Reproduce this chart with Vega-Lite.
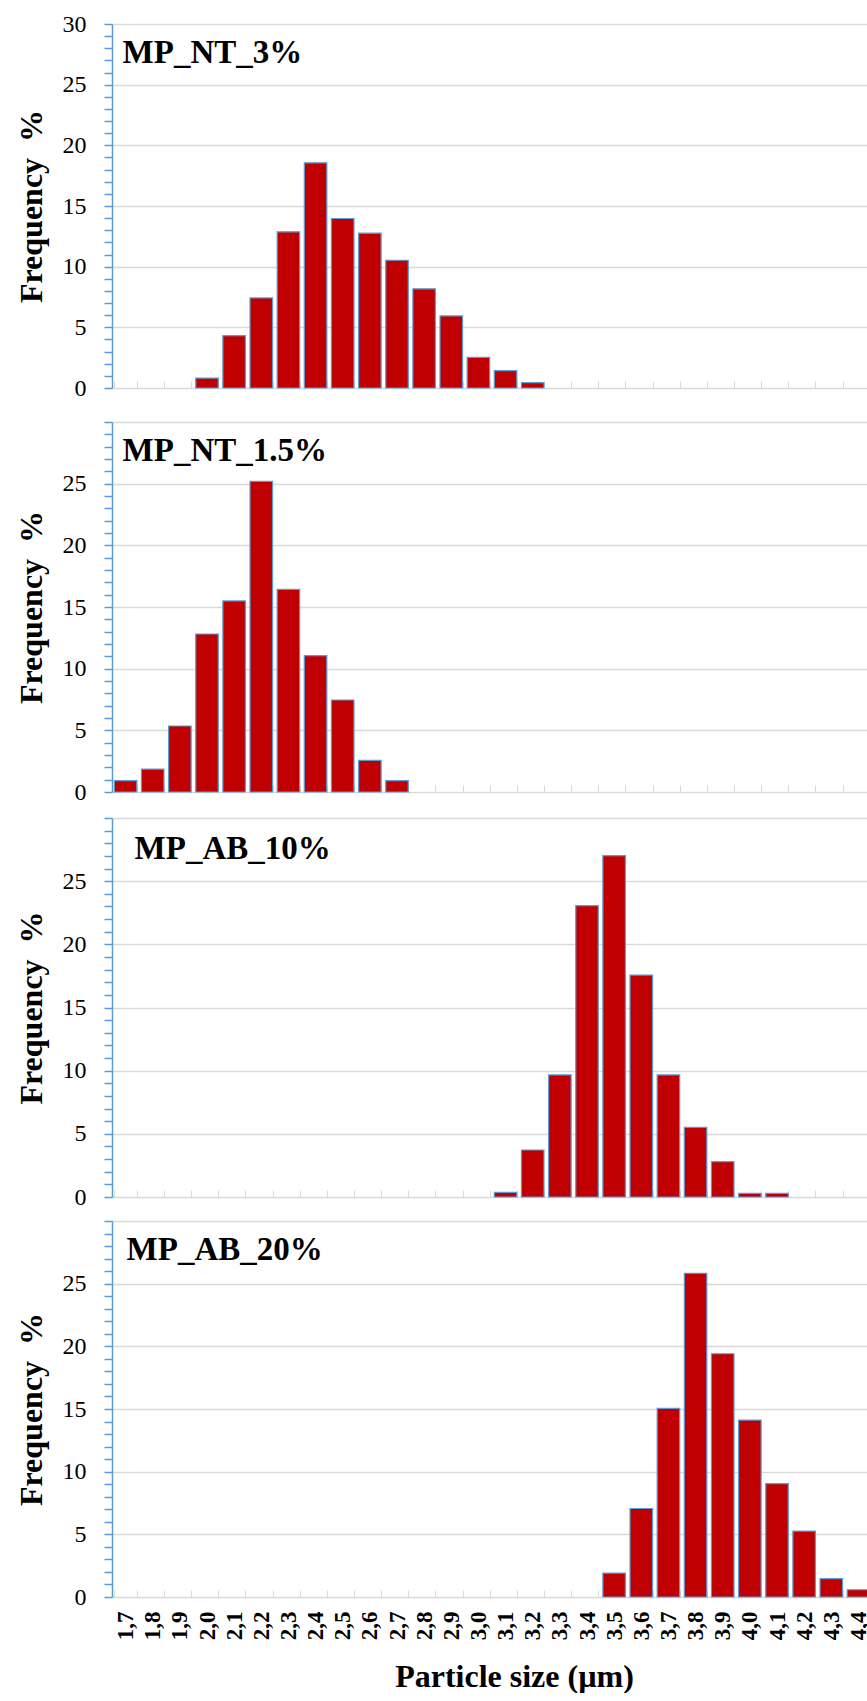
{
  "$schema": "https://vega.github.io/schema/vega-lite/v6.json",
  "background": "white",
  "padding": {"top": 12, "left": 15, "right": 0, "bottom": 0},
  "config": {
    "font": "Liberation Serif",
    "view": {"stroke": null},
    "axis": {"labelFont": "Liberation Serif", "titleFont": "Liberation Serif", "labelColor": "#000000", "titleColor": "#000000"}
  },
  "datasets": {
    "nt3": [
      {"size": "2,0", "freq": 0.82}, {"size": "2,1", "freq": 4.32}, {"size": "2,2", "freq": 7.42},
      {"size": "2,3", "freq": 12.87}, {"size": "2,4", "freq": 18.56}, {"size": "2,5", "freq": 13.97},
      {"size": "2,6", "freq": 12.76}, {"size": "2,7", "freq": 10.53}, {"size": "2,8", "freq": 8.17},
      {"size": "2,9", "freq": 5.94}, {"size": "3,0", "freq": 2.53}, {"size": "3,1", "freq": 1.43},
      {"size": "3,2", "freq": 0.44}
    ],
    "nt15": [
      {"size": "1,7", "freq": 0.92}, {"size": "1,8", "freq": 1.86}, {"size": "1,9", "freq": 5.35},
      {"size": "2,0", "freq": 12.81}, {"size": "2,1", "freq": 15.49}, {"size": "2,2", "freq": 25.19},
      {"size": "2,3", "freq": 16.43}, {"size": "2,4", "freq": 11.05}, {"size": "2,5", "freq": 7.46},
      {"size": "2,6", "freq": 2.57}, {"size": "2,7", "freq": 0.92}
    ],
    "ab10": [
      {"size": "3,1", "freq": 0.37}, {"size": "3,2", "freq": 3.72}, {"size": "3,3", "freq": 9.66},
      {"size": "3,4", "freq": 23.06}, {"size": "3,5", "freq": 27.02}, {"size": "3,6", "freq": 17.57},
      {"size": "3,7", "freq": 9.66}, {"size": "3,8", "freq": 5.51}, {"size": "3,9", "freq": 2.8},
      {"size": "4,0", "freq": 0.29}, {"size": "4,1", "freq": 0.29}
    ],
    "ab20": [
      {"size": "3,5", "freq": 1.91}, {"size": "3,6", "freq": 7.06}, {"size": "3,7", "freq": 15.05},
      {"size": "3,8", "freq": 25.83}, {"size": "3,9", "freq": 19.41}, {"size": "4,0", "freq": 14.12},
      {"size": "4,1", "freq": 9.05}, {"size": "4,2", "freq": 5.26}, {"size": "4,3", "freq": 1.46},
      {"size": "4,4", "freq": 0.58}
    ]
  },
  "spacing": 10,
  "vconcat": [
    {
      "width": 760, "height": 364,
      "layer": [
        {
          "data": {"name": "nt3"},
          "mark": {"type": "bar", "color": "#C00000", "stroke": "#5B9BD5", "strokeWidth": 1.2},
          "encoding": {
            "x": {"field": "size", "type": "nominal",
              "scale": {"domain": ["1,7","1,8","1,9","2,0","2,1","2,2","2,3","2,4","2,5","2,6","2,7","2,8","2,9","3,0","3,1","3,2","3,3","3,4","3,5","3,6","3,7","3,8","3,9","4,0","4,1","4,2","4,3","4,4"], "paddingInner": 0.17, "paddingOuter": 0.085},
              "axis": {"title": null, "labels": false, "tickBand": "extent", "tickSize": -7, "tickColor": "#D9D9D9", "tickWidth": 1, "domainColor": "#D9D9D9", "domainWidth": 1.5, "grid": false}},
            "y": {"field": "freq", "type": "quantitative",
              "scale": {"domain": [0, 30], "nice": false},
              "axis": {"title": "Frequency\u00a0\u00a0%", "titleFontSize": 32, "titleFontWeight": "bold", "titlePadding": 14,
                "values": [0,1,2,3,4,5,6,7,8,9,10,11,12,13,14,15,16,17,18,19,20,21,22,23,24,25,26,27,28,29,30],
                "labelExpr": "datum.value % 5 === 0 ? datum.label : ''", "labelOverlap": false, "labelFontSize": 24, "labelPadding": 18,
                "tickSize": 8, "tickColor": "#5B9BD5", "tickWidth": 1.5, "domainColor": "#5B9BD5", "domainWidth": 1.5,
                "grid": true, "gridColor": "#D9D9D9", "gridWidth": 1.5,
                "gridOpacity": {"condition": {"test": "datum.value % 5 === 0 && datum.value > 0", "value": 1}, "value": 0}}}
          }
        },
        {
          "data": {"values": [{}]},
          "mark": {"type": "text", "text": "MP_NT_3%", "align": "left", "baseline": "alphabetic", "dx": -3, "dy": 39, "font": "Liberation Serif", "fontSize": 33, "fontWeight": "bold", "color": "#000000"},
          "encoding": {
            "x": {"datum": "1,7", "type": "nominal",
              "axis": {"title": null, "labels": false, "tickBand": "extent", "tickSize": -7, "tickColor": "#D9D9D9", "tickWidth": 1, "domainColor": "#D9D9D9", "domainWidth": 1.5, "grid": false}},
            "y": {"datum": 30, "type": "quantitative",
              "axis": {"title": "Frequency\u00a0\u00a0%", "titleFontSize": 32, "titleFontWeight": "bold", "titlePadding": 14,
                "values": [0,1,2,3,4,5,6,7,8,9,10,11,12,13,14,15,16,17,18,19,20,21,22,23,24,25,26,27,28,29,30],
                "labelExpr": "datum.value % 5 === 0 ? datum.label : ''", "labelOverlap": false, "labelFontSize": 24, "labelPadding": 18,
                "tickSize": 8, "tickColor": "#5B9BD5", "tickWidth": 1.5, "domainColor": "#5B9BD5", "domainWidth": 1.5,
                "grid": true, "gridColor": "#D9D9D9", "gridWidth": 1.5,
                "gridOpacity": {"condition": {"test": "datum.value % 5 === 0 && datum.value > 0", "value": 1}, "value": 0}}}
          }
        }
      ]
    },
    {
      "spacing": 2,
      "vconcat": [
        {
          "width": 760, "height": 370,
          "layer": [
            {
              "data": {"name": "nt15"},
              "mark": {"type": "bar", "color": "#C00000", "stroke": "#5B9BD5", "strokeWidth": 1.2},
              "encoding": {
                "x": {"field": "size", "type": "nominal",
                  "scale": {"domain": ["1,7","1,8","1,9","2,0","2,1","2,2","2,3","2,4","2,5","2,6","2,7","2,8","2,9","3,0","3,1","3,2","3,3","3,4","3,5","3,6","3,7","3,8","3,9","4,0","4,1","4,2","4,3","4,4"], "paddingInner": 0.17, "paddingOuter": 0.085},
                  "axis": {"title": null, "labels": false, "tickBand": "extent", "tickSize": -7, "tickColor": "#D9D9D9", "tickWidth": 1, "domainColor": "#D9D9D9", "domainWidth": 1.5, "grid": false}},
                "y": {"field": "freq", "type": "quantitative",
                  "scale": {"domain": [0, 30], "nice": false},
                  "axis": {"title": "Frequency\u00a0\u00a0%", "titleFontSize": 32, "titleFontWeight": "bold", "titlePadding": 14,
                    "values": [0,1,2,3,4,5,6,7,8,9,10,11,12,13,14,15,16,17,18,19,20,21,22,23,24,25,26,27,28,29,30],
                    "labelExpr": "datum.value % 5 === 0 && datum.value < 30 ? datum.label : ''", "labelOverlap": false, "labelFontSize": 24, "labelPadding": 18,
                    "tickSize": 8, "tickColor": "#5B9BD5", "tickWidth": 1.5, "domainColor": "#5B9BD5", "domainWidth": 1.5,
                    "grid": true, "gridColor": "#D9D9D9", "gridWidth": 1.5,
                    "gridOpacity": {"condition": {"test": "datum.value % 5 === 0 && datum.value > 0", "value": 1}, "value": 0}}}
              }
            },
            {
              "data": {"values": [{}]},
              "mark": {"type": "text", "text": "MP_NT_1.5%", "align": "left", "baseline": "alphabetic", "dx": -3, "dy": 39, "font": "Liberation Serif", "fontSize": 33, "fontWeight": "bold", "color": "#000000"},
              "encoding": {
                "x": {"datum": "1,7", "type": "nominal",
                  "axis": {"title": null, "labels": false, "tickBand": "extent", "tickSize": -7, "tickColor": "#D9D9D9", "tickWidth": 1, "domainColor": "#D9D9D9", "domainWidth": 1.5, "grid": false}},
                "y": {"datum": 30, "type": "quantitative",
                  "axis": {"title": "Frequency\u00a0\u00a0%", "titleFontSize": 32, "titleFontWeight": "bold", "titlePadding": 14,
                    "values": [0,1,2,3,4,5,6,7,8,9,10,11,12,13,14,15,16,17,18,19,20,21,22,23,24,25,26,27,28,29,30],
                    "labelExpr": "datum.value % 5 === 0 && datum.value < 30 ? datum.label : ''", "labelOverlap": false, "labelFontSize": 24, "labelPadding": 18,
                    "tickSize": 8, "tickColor": "#5B9BD5", "tickWidth": 1.5, "domainColor": "#5B9BD5", "domainWidth": 1.5,
                    "grid": true, "gridColor": "#D9D9D9", "gridWidth": 1.5,
                    "gridOpacity": {"condition": {"test": "datum.value % 5 === 0 && datum.value > 0", "value": 1}, "value": 0}}}
              }
            }
          ]
        },
        {
          "spacing": 0,
          "vconcat": [
            {
              "width": 760, "height": 379,
              "layer": [
                {
                  "data": {"name": "ab10"},
                  "mark": {"type": "bar", "color": "#C00000", "stroke": "#5B9BD5", "strokeWidth": 1.2},
                  "encoding": {
                    "x": {"field": "size", "type": "nominal",
                      "scale": {"domain": ["1,7","1,8","1,9","2,0","2,1","2,2","2,3","2,4","2,5","2,6","2,7","2,8","2,9","3,0","3,1","3,2","3,3","3,4","3,5","3,6","3,7","3,8","3,9","4,0","4,1","4,2","4,3","4,4"], "paddingInner": 0.17, "paddingOuter": 0.085},
                      "axis": {"title": null, "labels": false, "tickBand": "extent", "tickSize": -7, "tickColor": "#D9D9D9", "tickWidth": 1, "domainColor": "#D9D9D9", "domainWidth": 1.5, "grid": false}},
                    "y": {"field": "freq", "type": "quantitative",
                      "scale": {"domain": [0, 30], "nice": false},
                      "axis": {"title": "Frequency\u00a0\u00a0%", "titleFontSize": 32, "titleFontWeight": "bold", "titlePadding": 14,
                        "values": [0,1,2,3,4,5,6,7,8,9,10,11,12,13,14,15,16,17,18,19,20,21,22,23,24,25,26,27,28,29,30],
                        "labelExpr": "datum.value % 5 === 0 && datum.value < 30 ? datum.label : ''", "labelOverlap": false, "labelFontSize": 24, "labelPadding": 18,
                        "tickSize": 8, "tickColor": "#5B9BD5", "tickWidth": 1.5, "domainColor": "#5B9BD5", "domainWidth": 1.5,
                        "grid": true, "gridColor": "#D9D9D9", "gridWidth": 1.5,
                        "gridOpacity": {"condition": {"test": "datum.value % 5 === 0 && datum.value > 0", "value": 1}, "value": 0}}}
                  }
                },
                {
                  "data": {"values": [{}]},
                  "mark": {"type": "text", "text": "MP_AB_10%", "align": "left", "baseline": "alphabetic", "dx": 9, "dy": 41, "font": "Liberation Serif", "fontSize": 33, "fontWeight": "bold", "color": "#000000"},
                  "encoding": {
                    "x": {"datum": "1,7", "type": "nominal",
                      "axis": {"title": null, "labels": false, "tickBand": "extent", "tickSize": -7, "tickColor": "#D9D9D9", "tickWidth": 1, "domainColor": "#D9D9D9", "domainWidth": 1.5, "grid": false}},
                    "y": {"datum": 30, "type": "quantitative",
                      "axis": {"title": "Frequency\u00a0\u00a0%", "titleFontSize": 32, "titleFontWeight": "bold", "titlePadding": 14,
                        "values": [0,1,2,3,4,5,6,7,8,9,10,11,12,13,14,15,16,17,18,19,20,21,22,23,24,25,26,27,28,29,30],
                        "labelExpr": "datum.value % 5 === 0 && datum.value < 30 ? datum.label : ''", "labelOverlap": false, "labelFontSize": 24, "labelPadding": 18,
                        "tickSize": 8, "tickColor": "#5B9BD5", "tickWidth": 1.5, "domainColor": "#5B9BD5", "domainWidth": 1.5,
                        "grid": true, "gridColor": "#D9D9D9", "gridWidth": 1.5,
                        "gridOpacity": {"condition": {"test": "datum.value % 5 === 0 && datum.value > 0", "value": 1}, "value": 0}}}
                  }
                }
              ]
            },
            {
              "width": 760, "height": 376,
              "layer": [
                {
                  "data": {"name": "ab20"},
                  "mark": {"type": "bar", "color": "#C00000", "stroke": "#5B9BD5", "strokeWidth": 1.2},
                  "encoding": {
                    "x": {"field": "size", "type": "nominal",
                      "scale": {"domain": ["1,7","1,8","1,9","2,0","2,1","2,2","2,3","2,4","2,5","2,6","2,7","2,8","2,9","3,0","3,1","3,2","3,3","3,4","3,5","3,6","3,7","3,8","3,9","4,0","4,1","4,2","4,3","4,4"], "paddingInner": 0.17, "paddingOuter": 0.085},
                      "axis": {"title": "Particle size (µm)", "titleFontSize": 32, "titleFontWeight": "bold", "titlePadding": 22, "titleX": 402,
                        "labelAngle": -90, "labelFontSize": 23, "labelFontWeight": "bold", "labelPadding": 21,
                        "tickBand": "extent", "tickSize": -7, "tickColor": "#D9D9D9", "tickWidth": 1, "domainColor": "#D9D9D9", "domainWidth": 1.5, "grid": false}},
                    "y": {"field": "freq", "type": "quantitative",
                      "scale": {"domain": [0, 30], "nice": false},
                      "axis": {"title": "Frequency\u00a0\u00a0%", "titleFontSize": 32, "titleFontWeight": "bold", "titlePadding": 14,
                        "values": [0,1,2,3,4,5,6,7,8,9,10,11,12,13,14,15,16,17,18,19,20,21,22,23,24,25,26,27,28,29,30],
                        "labelExpr": "datum.value % 5 === 0 && datum.value < 30 ? datum.label : ''", "labelOverlap": false, "labelFontSize": 24, "labelPadding": 18,
                        "tickSize": 8, "tickColor": "#5B9BD5", "tickWidth": 1.5, "domainColor": "#5B9BD5", "domainWidth": 1.5,
                        "grid": true, "gridColor": "#D9D9D9", "gridWidth": 1.5,
                        "gridOpacity": {"condition": {"test": "datum.value % 5 === 0 && datum.value > 0", "value": 1}, "value": 0}}}
                  }
                },
                {
                  "data": {"values": [{}]},
                  "mark": {"type": "text", "text": "MP_AB_20%", "align": "left", "baseline": "alphabetic", "dx": 1, "dy": 39, "font": "Liberation Serif", "fontSize": 33, "fontWeight": "bold", "color": "#000000"},
                  "encoding": {
                    "x": {"datum": "1,7", "type": "nominal",
                      "axis": {"title": "Particle size (µm)", "titleFontSize": 32, "titleFontWeight": "bold", "titlePadding": 22, "titleX": 402,
                        "labelAngle": -90, "labelFontSize": 23, "labelFontWeight": "bold", "labelPadding": 21,
                        "tickBand": "extent", "tickSize": -7, "tickColor": "#D9D9D9", "tickWidth": 1, "domainColor": "#D9D9D9", "domainWidth": 1.5, "grid": false}},
                    "y": {"datum": 30, "type": "quantitative",
                      "axis": {"title": "Frequency\u00a0\u00a0%", "titleFontSize": 32, "titleFontWeight": "bold", "titlePadding": 14,
                        "values": [0,1,2,3,4,5,6,7,8,9,10,11,12,13,14,15,16,17,18,19,20,21,22,23,24,25,26,27,28,29,30],
                        "labelExpr": "datum.value % 5 === 0 && datum.value < 30 ? datum.label : ''", "labelOverlap": false, "labelFontSize": 24, "labelPadding": 18,
                        "tickSize": 8, "tickColor": "#5B9BD5", "tickWidth": 1.5, "domainColor": "#5B9BD5", "domainWidth": 1.5,
                        "grid": true, "gridColor": "#D9D9D9", "gridWidth": 1.5,
                        "gridOpacity": {"condition": {"test": "datum.value % 5 === 0 && datum.value > 0", "value": 1}, "value": 0}}}
                  }
                }
              ]
            }
          ]
        }
      ]
    }
  ]
}
